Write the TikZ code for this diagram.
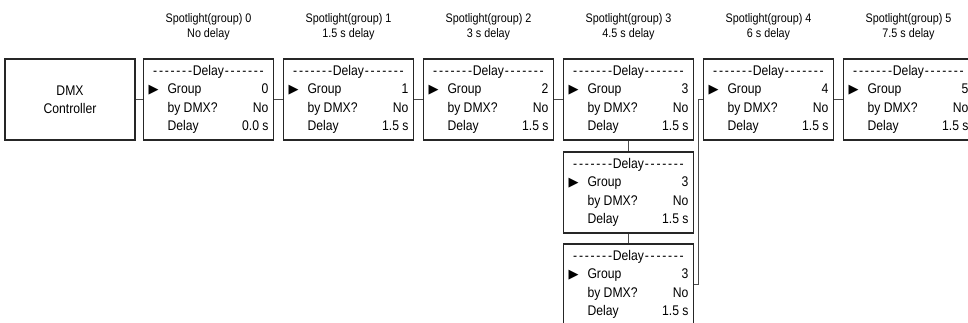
\documentclass[tikz,border=0pt]{standalone}
\usepackage{fontspec}
\setmainfont[FakeStretch=0.87]{Liberation Sans}
\newfontfamily\symfont{DejaVu Sans}
\tikzset{
  dmx panel/.style={
    draw=black!85,line width=1.2pt,minimum width=130pt,minimum height=81pt,
    inner sep=0pt,align=center,font=\fontsize{14}{18.3}\selectfont
  },
  dmx title/.style={align=center,font=\fontsize{12.4}{15}\selectfont},
  dmx link/.style={black!70,line width=0.9pt}
}
% spaced-out hyphens round the menu heading
\newcommand{\hy}{\makebox[5.8pt]{-}}
\newcommand{\dashrun}{\hy\hy\hy\hy\hy\hy\hy}
\newcommand{\menuarrow}{{\symfont\fontsize{13}{13}\selectfont ▶}}
\newcommand{\delaymenu}[2]{%
  \makebox[120pt]{\dashrun Delay\dashrun}\\
  \makebox[19pt][l]{\menuarrow}\makebox[60pt][l]{Group}\makebox[41pt][r]{#1}\\
  \makebox[19pt][l]{}\makebox[60pt][l]{by DMX?}\makebox[41pt][r]{No}\\
  \makebox[19pt][l]{}\makebox[60pt][l]{Delay}\makebox[41pt][r]{#2}%
}

\begin{document}
\begin{tikzpicture}[x=1pt,y=1pt]
  \clip (0,0) rectangle (968,323);
  \fill[white] (0,0) rectangle (968,323);
  % controller and the chain of delay menus
  \node[dmx panel] (dmx) at (70,223.5) {DMX\\Controller};
  \node[dmx panel] (p0) at (208.5,223.5) {\delaymenu{0}{0.0 s}};
  \node[dmx panel] (p1) at (348.5,223.5) {\delaymenu{1}{1.5 s}};
  \node[dmx panel] (p2) at (488.5,223.5) {\delaymenu{2}{1.5 s}};
  \node[dmx panel] (p3) at (628.5,223.5) {\delaymenu{3}{1.5 s}};
  \node[dmx panel] (p3b) at (628.5,130.5) {\delaymenu{3}{1.5 s}};
  \node[dmx panel] (p3c) at (628.5,38.5) {\delaymenu{3}{1.5 s}};
  \node[dmx panel] (p4) at (768.5,223.5) {\delaymenu{4}{1.5 s}};
  \node[dmx panel] (p5) at (908.5,223.5) {\delaymenu{5}{1.5 s}};
  % headings
  \node[dmx title] (t0) at (208.5,296.5) {Spotlight(group) 0\\No delay};
  \node[dmx title] (t1) at (348.5,296.5) {Spotlight(group) 1\\1.5 s delay};
  \node[dmx title] (t2) at (488.5,296.5) {Spotlight(group) 2\\3 s delay};
  \node[dmx title] (t3) at (628.5,296.5) {Spotlight(group) 3\\4.5 s delay};
  \node[dmx title] (t4) at (768.5,296.5) {Spotlight(group) 4\\6 s delay};
  \node[dmx title] (t5) at (908.5,296.5) {Spotlight(group) 5\\7.5 s delay};
  % wiring
  \draw[dmx link] (dmx)--(p0) (p0)--(p1) (p1)--(p2) (p2)--(p3) (p4)--(p5)
    (p3)--(p3b) (p3b)--(p3c);
  \draw[dmx link] (p3c.east) -| ([xshift=-4pt]p4.west) -- (p4.west);
\end{tikzpicture}
\end{document}
